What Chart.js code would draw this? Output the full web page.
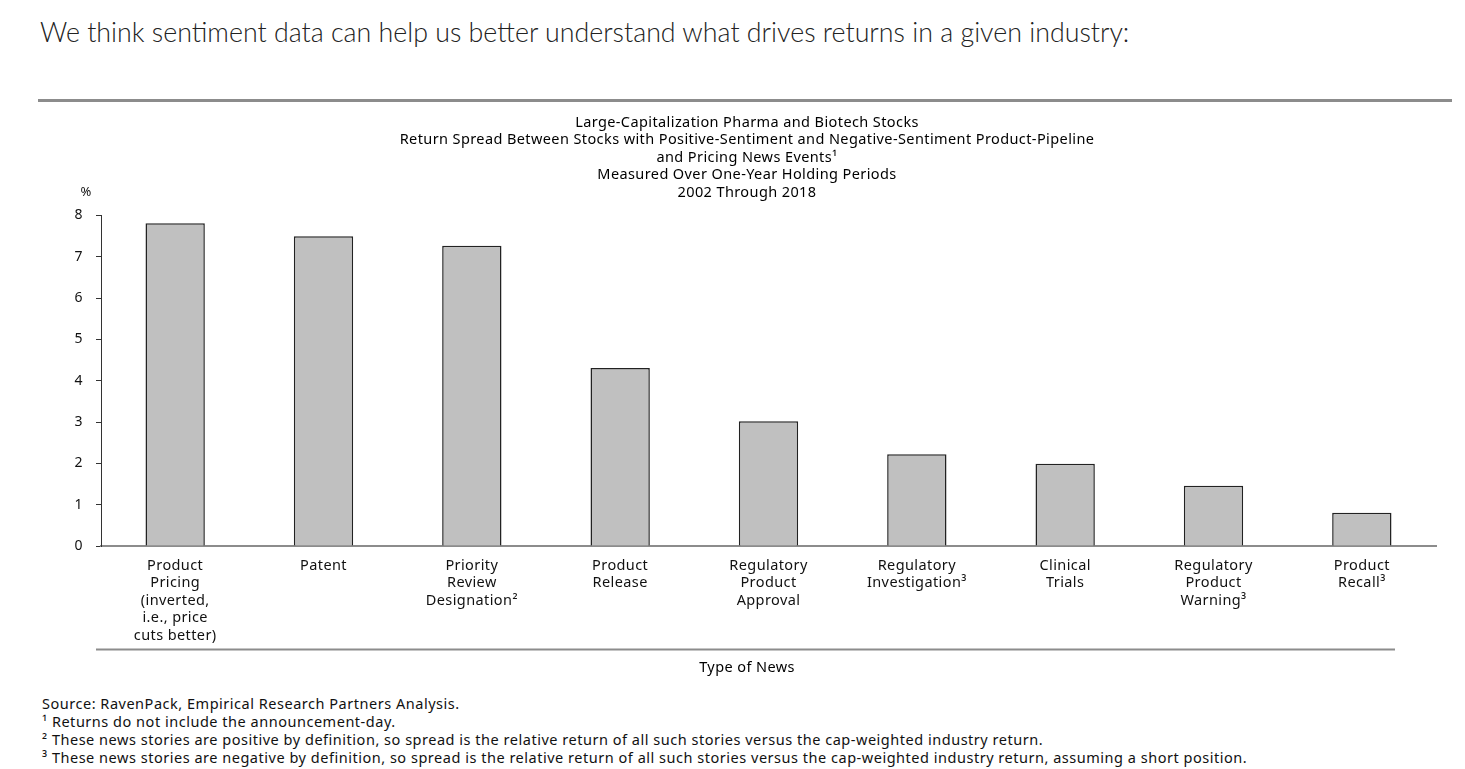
<!DOCTYPE html>
<html>
<head>
<meta charset="utf-8">
<script src="https://cdn.jsdelivr.net/npm/chart.js@4"></script>
<style>
  body { margin: 0; background: #fff; width: 1465px; height: 769px; overflow: hidden; position: relative; font-family: "Noto Sans", sans-serif; }
  #intro { position: absolute; left: 40px; top: 16px; font-family: Lato, sans-serif; font-size: 26.8px; font-weight: 300; color: #222; white-space: nowrap; }
  #rule { position: absolute; left: 38px; top: 99px; width: 1414px; height: 3px; background: #8c8c8c; }
  #box { position: absolute; left: 38px; top: 106px; width: 1414px; height: 575px; }
  #notes { position: absolute; left: 42px; top: 694px; font-size: 14.5px; letter-spacing: 0.52px; line-height: 18px; color: #111; white-space: nowrap; }
</style>
</head>
<body>
<div id="intro">We think sentiment data can help us better understand what drives returns in a given industry:</div>
<div id="rule"></div>
<div id="box"><canvas id="chart"></canvas></div>
<div id="notes">
  Source: RavenPack, Empirical Research Partners Analysis.<br>
  ¹ Returns do not include the announcement-day.<br>
  ² These news stories are positive by definition, so spread is the relative return of all such stories versus the cap-weighted industry return.<br>
  ³ These news stories are negative by definition, so spread is the relative return of all such stories versus the cap-weighted industry return, assuming a short position.
</div>
<script>
// catégories et valeurs
const categories = [
  ['Product', 'Pricing', '(inverted,', 'i.e., price', 'cuts better)'],
  ['Patent'],
  ['Priority', 'Review', 'Designation²'],
  ['Product', 'Release'],
  ['Regulatory', 'Product', 'Approval'],
  ['Regulatory', 'Investigation³'],
  ['Clinical', 'Trials'],
  ['Regulatory', 'Product', 'Warning³'],
  ['Product', 'Recall³']
];
const spread = [7.81, 7.5, 7.27, 4.31, 3.02, 2.22, 1.99, 1.46, 0.81];
const yTicks = [0, 1, 2, 3, 4, 5, 6, 7, 8];

const titleLines = [
  'Large-Capitalization Pharma and Biotech Stocks',
  'Return Spread Between Stocks with Positive-Sentiment and Negative-Sentiment Product-Pipeline',
  'and Pricing News Events¹',
  'Measured Over One-Year Holding Periods',
  '2002 Through 2018'
];

const fontFam = '"Noto Sans", sans-serif';

// léger espacement des lettres pour se rapprocher de la police d'origine
const spacing = {
  id: 'spacing',
  beforeDraw(chart) { chart.ctx.letterSpacing = '0.4px'; }
};

// "%" au-dessus de l'axe et ligne sous les libellés
const extras = {
  id: 'extras',
  afterDraw(chart) {
    const { ctx, chartArea, scales } = chart;
    ctx.save();
    ctx.fillStyle = '#111';
    ctx.font = '13px ' + fontFam;
    ctx.textAlign = 'center';
    ctx.textBaseline = 'middle';
    ctx.fillText('%', chartArea.left - 15, chartArea.top - 23);
    ctx.strokeStyle = '#8c8c8c';
    ctx.lineWidth = 2;
    ctx.beginPath();
    const y = scales.x.bottom + 2;
    ctx.moveTo(chartArea.left - 5, y);
    ctx.lineTo(chartArea.right - 41, y);
    ctx.stroke();
    ctx.restore();
  }
};

new Chart(document.getElementById('chart'), {
  type: 'bar',
  data: {
    labels: categories,
    datasets: [{
      data: spread,
      backgroundColor: '#c0c0c0',
      borderColor: '#222',
      borderWidth: 1.5,
      barPercentage: 0.4,
      categoryPercentage: 1
    }]
  },
  options: {
    responsive: true,
    maintainAspectRatio: false,
    animation: false,
    layout: { padding: { left: 20, right: 16, top: 0, bottom: 0 } },
    plugins: {
      legend: { display: false },
      tooltip: { enabled: false },
      title: {
        display: true,
        text: titleLines,
        color: '#000',
        font: { family: fontFam, size: 14.5, weight: 'normal', lineHeight: 17.5 / 14.5 },
        padding: { top: 8, bottom: 14 }
      },
      subtitle: {
        display: true,
        position: 'bottom',
        text: 'Type of News',
        color: '#000',
        font: { family: fontFam, size: 14.5, weight: 'normal' },
        padding: { top: 12, bottom: 4 }
      }
    },
    scales: {
      x: {
        grid: { display: false },
        border: { color: '#8c8c8c', width: 2 },
        ticks: {
          color: '#111',
          font: { family: fontFam, size: 14.5, lineHeight: 17.5 / 14.5 },
          padding: 3,
          maxRotation: 0,
          autoSkip: false
        }
      },
      y: {
        min: 0,
        max: 8,
        afterBuildTicks(scale) { scale.ticks = yTicks.map(v => ({ value: v })); },
        afterFit(scale) { scale.width = 43; },
        grid: { drawOnChartArea: false, drawTicks: true, tickLength: 5, color: '#333' },
        border: { color: '#333', width: 1 },
        ticks: {
          color: '#111',
          font: { family: fontFam, size: 14 },
          padding: 13
        }
      }
    }
  },
  plugins: [spacing, extras]
});
</script>
</body>
</html>
